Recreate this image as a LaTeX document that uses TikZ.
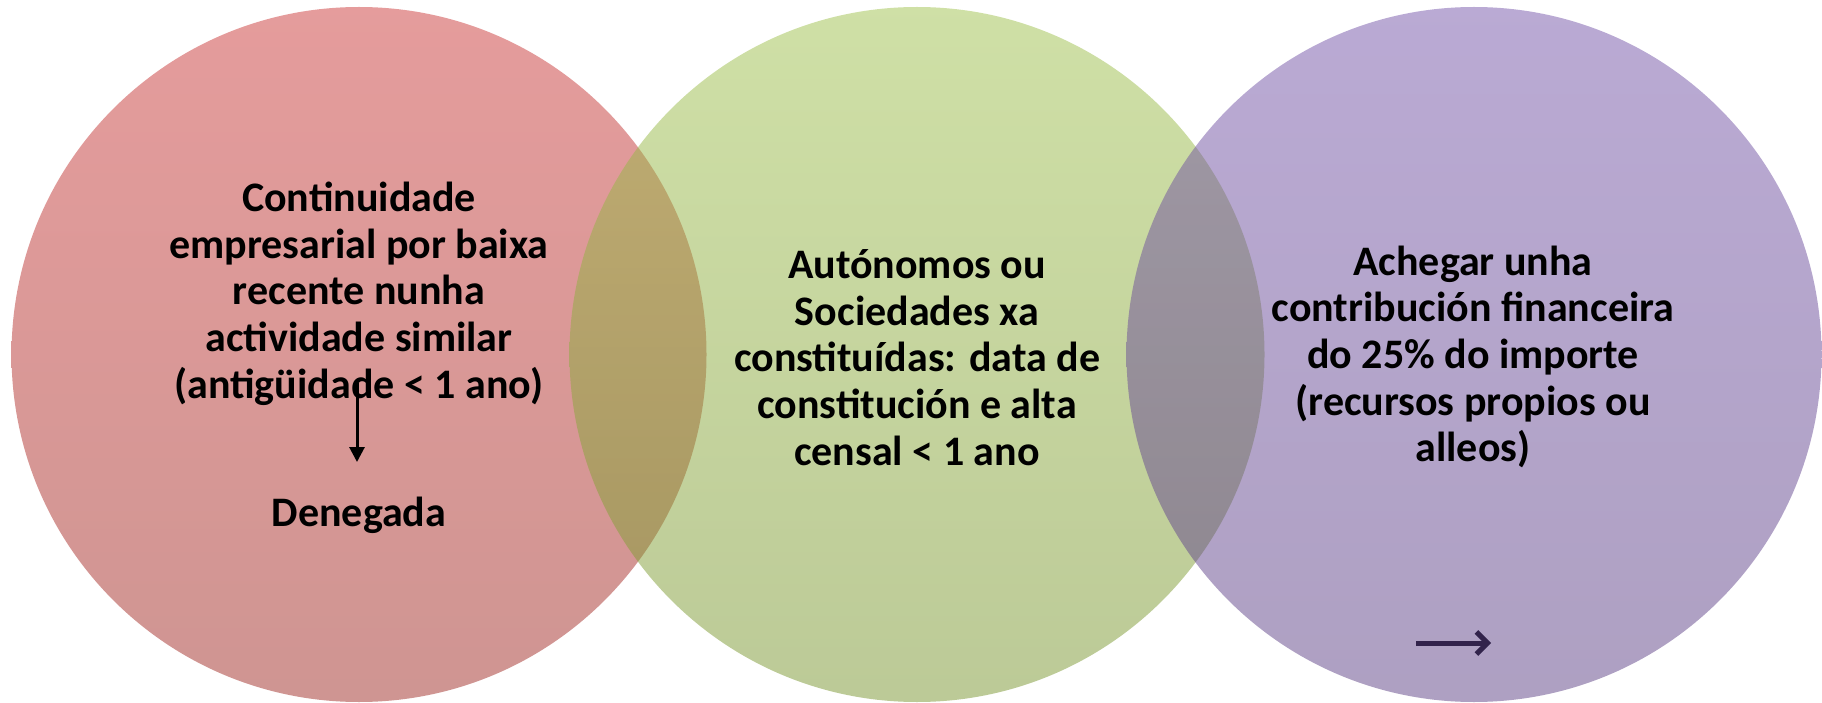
\documentclass[tikz,border=0pt]{standalone}
\usepackage{fontspec}
\setmainfont{Carlito}
\usetikzlibrary{arrows.meta}
\definecolor{redtop}{RGB}{203,57,57}
\definecolor{redbot}{RGB}{159,43,37}
\definecolor{greentop}{RGB}{159,193,77}
\definecolor{greenbot}{RGB}{121,149,47}
\definecolor{purptop}{RGB}{117,85,169}
\definecolor{purpbot}{RGB}{93,65,133}
\definecolor{arrowpurple}{RGB}{50,35,75}
\begin{document}
\begin{tikzpicture}[x=1pt,y=-1pt,
  venn/.style={fill opacity=0.5},
  label/.style={align=center, inner sep=0pt, font=\bfseries\fontsize{42}{46.7}\selectfont, text=black}]
\useasboundingbox (0,0) rectangle (1822,703);
\shade[venn, top color=redtop, bottom color=redbot] (359,354.5) circle (347.5pt);
\shade[venn, top color=greentop, bottom color=greenbot] (917,354.5) circle (347.5pt);
\shade[venn, top color=purptop, bottom color=purpbot] (1474,354.5) circle (347.5pt);
\node[label] (t1) at (359,293.5) {Continuidade\\empresarial por baixa\\recente nunha\\actividade similar\\(antigüidade < 1 ano)};
\node[label] (den) at (359,515) {Denegada};
\node[label] (t2) at (917,357.5) {Autónomos ou\\Sociedades xa\\constituídas: data de\\constitución e alta\\censal < 1 ano};
\node[label] (t3) at (1473,357) {Achegar unha\\contribución financeira\\do 25\% do importe\\(recursos propios ou\\alleos)};
\coordinate (ra) at (357,383);
\coordinate (rb) at (357,462);
\draw[-{Triangle[length=15pt,width=15pt]}, line width=3pt] (ra) -- (rb);
\coordinate (pa) at (1416,643);
\coordinate (pb) at (1491,643);
\draw[-{Straight Barb[length=11pt,width=22pt]}, line width=5pt, arrowpurple] (pa) -- (pb);
\end{tikzpicture}
\end{document}
